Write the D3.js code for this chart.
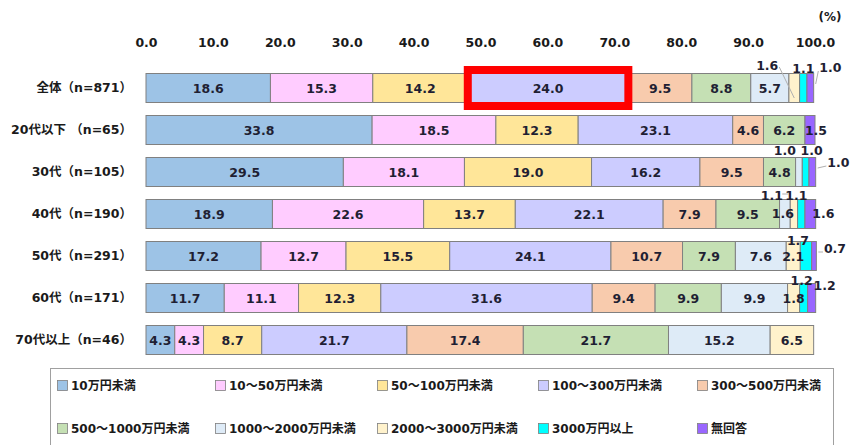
<html>
  <head>
    <meta charset="utf-8">
    <title>年収分布</title>
    <style>
      body { margin: 0; background: #fff; }
      text { font-family: "DejaVu Sans", "Noto Sans CJK JP", sans-serif; font-weight: bold; }
    </style>
  </head>
  <body>
    <script src="https://cdn.jsdelivr.net/npm/d3@7"></script>
    <script type="text/javascript">

    // data
    var categories = ["10万円未満", "10～50万円未満", "50～100万円未満", "100～300万円未満", "300～500万円未満",
                      "500～1000万円未満", "1000～2000万円未満", "2000～3000万円未満", "3000万円以上", "無回答"];
    var groups = ["全体（n=871）", "20代以下 （n=65）", "30代（n=105）", "40代（n=190）",
                  "50代（n=291）", "60代（n=171）", "70代以上（n=46）"];
    var values = [
      [18.6, 15.3, 14.2, 24.0, 9.5, 8.8, 5.7, 1.6, 1.1, 1.0],
      [33.8, 18.5, 12.3, 23.1, 4.6, 6.2, 0, 0, 0, 1.5],
      [29.5, 18.1, 19.0, 16.2, 9.5, 4.8, 1.0, 0, 1.0, 1.0],
      [18.9, 22.6, 13.7, 22.1, 7.9, 9.5, 1.6, 1.1, 1.1, 1.6],
      [17.2, 12.7, 15.5, 24.1, 10.7, 7.9, 7.6, 2.1, 1.7, 0.7],
      [11.7, 11.1, 12.3, 31.6, 9.4, 9.9, 9.9, 1.8, 1.2, 1.2],
      [4.3, 4.3, 8.7, 21.7, 17.4, 21.7, 15.2, 6.5, 0, 0]
    ];
    var ticks = [0, 10, 20, 30, 40, 50, 60, 70, 80, 90, 100];
    var colors = ["#9dc3e6", "#ffccff", "#ffe699", "#ccccff", "#f8cbad",
                  "#c5e0b4", "#deebf7", "#fff2cc", "#00ffff", "#9966ff"];

    // small segments: label nudges [dx, dy, leader]
    var nudges = {
      "0-7": [-27, -23, 1], "0-8": [0, -20, 0], "0-9": [20, -21, 1],
      "1-9": [6, 0, 0],
      "2-6": [-14, -22, 0], "2-8": [6, -22, 0], "2-9": [26, -10, 1],
      "3-6": [-2, -1, 0], "3-7": [-22, -19, 0], "3-8": [-5, -19, 0], "3-9": [13, -1, 0],
      "4-8": [-8, -16, 0], "4-9": [21, -8, 1],
      "5-8": [-2, -18, 0], "5-9": [13, -13, 0]
    };

    var w = 853, h = 445;
    var svg = d3.select("body").append("svg")
                .attr("width", w)
                .attr("height", h);

    var x = d3.scaleLinear().domain([0, 100]).range([146, 815]);
    var y = d3.scalePoint().domain(groups).range([88, 340]);
    var barH = 29;
    var color = d3.scaleOrdinal().domain(categories).range(colors);

    // top axis
    var axis = d3.axisTop(x).tickValues(ticks).tickSize(0).tickFormat(d3.format(".1f"));
    var ax = svg.append("g").attr("transform", "translate(0,50)").call(axis);
    ax.select(".domain").remove();
    ax.selectAll("text").attr("font-size", 12.5).attr("fill", "#1a1a1a").attr("dy", 0);

    svg.append("text").attr("x", 830).attr("y", 21).attr("text-anchor", "middle")
       .attr("font-size", 12).attr("fill", "#1a1a1a").text("(%)");

    // group labels
    svg.selectAll(".glabel").data(groups).enter().append("text")
       .attr("class", "glabel")
       .attr("x", 132).attr("y", function(d) { return y(d); })
       .attr("dy", "0.35em").attr("text-anchor", "end")
       .attr("font-size", 12.5).attr("fill", "#1a1a1a")
       .text(function(d) { return d; });

    // stacked segments
    var segs = [];
    values.forEach(function(row, i) {
      var acc = 0;
      row.forEach(function(v, j) {
        segs.push({ g: groups[i], gi: i, ci: j, c: categories[j], x0: acc, x1: acc + v, v: v });
        acc += v;
      });
    });

    svg.selectAll(".seg").data(segs.filter(function(d) { return d.v > 0; })).enter().append("rect")
       .attr("class", "seg")
       .attr("x", function(d) { return x(d.x0); })
       .attr("width", function(d) { return x(d.x1) - x(d.x0); })
       .attr("y", function(d) { return y(d.g) - barH / 2; })
       .attr("height", barH)
       .attr("fill", function(d) { return color(d.c); })
       .attr("stroke", "#808080")
       .attr("stroke-width", 1);

    // highlight box
    var hl = segs[3];
    svg.append("rect")
       .attr("x", x(hl.x0)).attr("width", x(hl.x1) - x(hl.x0))
       .attr("y", y(hl.g) - barH / 2 - 3.5).attr("height", barH + 7)
       .attr("fill", "none").attr("stroke", "#ff0000").attr("stroke-width", 8);

    // leaders
    var lab = segs.filter(function(d) { return d.v > 0; });
    lab.forEach(function(d) {
      var n = nudges[d.gi + "-" + d.ci];
      if (!n || !n[2]) return;
      var cx = (x(d.x0) + x(d.x1)) / 2, cy = y(d.g);
      var lx = cx + n[0], ly = cy + n[1];
      svg.append("line")
         .attr("x1", n[0] < 0 ? lx + 12 : lx - 12).attr("y1", ly + (n[0] < 0 ? 2 : 4))
         .attr("x2", n[0] < 0 ? cx : x(d.x1) + 2).attr("y2", n[0] < 0 ? cy + 10 : cy - 4)
         .attr("stroke", "#b0b0b0").attr("stroke-width", 1);
    });
    svg.append("line").attr("x1", x(96.3) - 8).attr("x2", x(96.3) - 2)
       .attr("y1", y(groups[3]) - 20).attr("y2", y(groups[3]) - 20)
       .attr("stroke", "#b0b0b0");

    // value labels
    svg.selectAll(".vlabel").data(lab).enter().append("text")
       .attr("class", "vlabel")
       .attr("x", function(d) {
         var n = nudges[d.gi + "-" + d.ci];
         return (x(d.x0) + x(d.x1)) / 2 + (n ? n[0] : 0);
       })
       .attr("y", function(d) {
         var n = nudges[d.gi + "-" + d.ci];
         return y(d.g) + (n ? n[1] : 0);
       })
       .attr("dy", "0.38em").attr("text-anchor", "middle")
       .attr("font-size", 12.5).attr("fill", "#1f1f33")
       .text(function(d) { return d.v.toFixed(1); });

    // legend
    svg.append("rect").attr("x", 50.5).attr("y", 368.5).attr("width", 783).attr("height", 90)
       .attr("fill", "#fff").attr("stroke", "#a0a0a0").attr("stroke-width", 1);

    var legX = [57, 215, 377, 538, 697];
    var leg = svg.selectAll(".leg").data(categories).enter().append("g")
       .attr("class", "leg")
       .attr("transform", function(d, i) {
         return "translate(" + legX[i % 5] + "," + (i < 5 ? 385 : 428) + ")";
       });
    leg.append("rect").attr("x", 0.5).attr("y", -4.5).attr("width", 10).attr("height", 10)
       .attr("fill", function(d) { return color(d); })
       .attr("stroke", "#7f7f7f").attr("stroke-width", 0.8);
    leg.append("text").attr("x", 14).attr("y", 0).attr("dy", "0.38em")
       .attr("font-size", 12).attr("fill", "#1a1a1a")
       .text(function(d) { return d; });

    </script>
  </body>
</html>
